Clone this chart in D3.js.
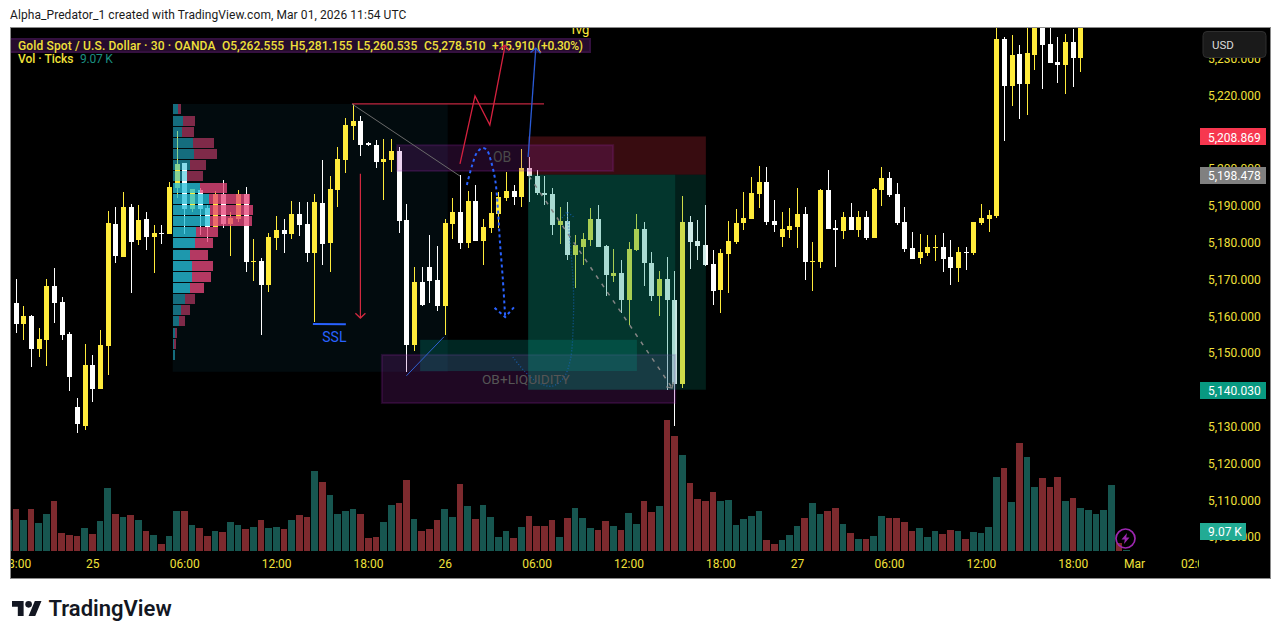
<!DOCTYPE html>
<html>
<head>
<meta charset="utf-8">
<script src="https://cdn.jsdelivr.net/npm/d3@7"></script>
<style>
  html, body { margin: 0; padding: 0; background: #fff; overflow: hidden; }
  text { font-family: Roboto, sans-serif; }
</style>
</head>
<body>
<svg class="chart" width="1281" height="639"></svg>
<script>
// 30 minute bars, leftmost partly cut off by the pane
var opens = [
  5158.4,5163.6,5157.9,5160.1,5151.1,5153.6,5168.2,5163.9,5155.2,5135.4,
  5130.2,5146.8,5140.2,5151.9,5185.1,5176.1,5189.7,5180.7,5186.4,5181.6,
  5182.6,5182.4,5194.9,5201.7,5189.2,5194.3,5189.4,5184.3,5193.2,5185.1,
  5186.4,5193.2,5174.8,5175,5168.5,5181.3,5183.5,5182.4,5187.8,5185.1,
  5177.2,5190.8,5179.9,5194.3,5202.5,5211.7,5213.1,5207.1,5206.5,5201.9,
  5202.5,5204.9,5186.2,5152.2,5169.3,5173.4,5169.9,5162.8,5185.1,5188.4,
  5179.9,5191.3,5180.4,5184,5187.8,5192.1,5194,5192.4,5200.3,5198.1,
  5193.5,5193.2,5184.8,5185.9,5176.7,5178.8,5180.7,5186.4,5179.1,5171,
  5171.8,5164.4,5178,5183.7,5174.5,5165.5,5170.1,5164.4,5141.6,5185.6,
  5180.4,5179.4,5174.2,5167.1,5176.9,5180.2,5185.4,5186.4,5193.2,5196.5,
  5185.9,5181.6,5183.5,5184.3,5187.8,5174.8,5174.8,5194.3,5184,5183.2,
  5187,5183.5,5187,5181.3,5194.3,5197.6,5193.2,5185.6,5178.6,5175.8,
  5177.2,5178.6,5178.8,5176.1,5173.1,5177.5,5177.2,5185.4,5186.4,5187.3,
  5235.4,5222.6,5231.3,5223.1,5231,5242,5234,5229.1,5228.3,5234.5,
  5230.2,5243,5248,5252,5256,5265,5262.555
];
var highs = [
  5164.4,5170.1,5162.8,5160.4,5156.8,5170.1,5173.1,5165.2,5155.7,5137.8,
  5152.5,5149.5,5156.3,5188.6,5189.7,5193.8,5190.5,5190.2,5188.4,5184.8,
  5184.8,5196.5,5210.3,5201.7,5194.6,5194.9,5190.2,5194,5197,5188.4,
  5194.3,5195.1,5181,5175.8,5182.6,5187.3,5186.4,5191.3,5191,5191,
  5193.2,5202.5,5198.1,5206,5213.9,5217.7,5214.4,5207.4,5207.9,5208.2,
  5208.2,5206,5190.5,5173.4,5173.4,5182.1,5179.1,5186.4,5192.1,5198.4,
  5194,5195.7,5186.4,5193.8,5193.8,5199.2,5195.7,5205.4,5203.3,5199.8,
  5198.1,5194.9,5189.7,5191,5182.1,5182.6,5189.4,5190.2,5179.4,5178.3,
  5175.3,5180.2,5187.8,5185.6,5177.5,5172.3,5176.1,5172.3,5192.7,5187.3,
  5186.2,5190.2,5178,5178.3,5185.9,5189.2,5193.8,5197.8,5200.8,5200.6,
  5191.6,5188.4,5189.4,5194.9,5189.7,5180.2,5194.6,5199.8,5186.2,5188.4,
  5190.8,5188.6,5188.6,5194.9,5200.6,5199.2,5196.2,5189.7,5182.9,5182.4,
  5182.1,5182.1,5182.6,5180.7,5178.8,5178.8,5185.6,5190.5,5188.9,5240,
  5235.9,5236.4,5233.7,5240,5244,5244,5242,5235.9,5236.7,5238,
  5245,5250,5255,5258,5268,5268,5281.155
];
var lows = [
  5157.6,5155.5,5153.6,5146.2,5148.9,5146.5,5158.2,5153.6,5139.7,5128.3,
  5129.1,5136.7,5140.2,5144,5174.5,5176.1,5166.3,5179.4,5178,5171.8,
  5179.6,5182.4,5192.1,5182.4,5188.4,5182.1,5180.2,5184.3,5184,5176.4,
  5185.6,5172,5169.6,5154.9,5166.6,5178,5177.2,5181,5181.8,5174.8,
  5158.5,5174,5172,5189.7,5198.9,5207.9,5203.6,5206.3,5200.3,5191.6,
  5199.2,5182.6,5144.9,5150.6,5162.8,5163.6,5161.4,5154.9,5181,5178.3,
  5178.6,5180.4,5174,5182.6,5184,5191.3,5190.2,5189.7,5191,5193,
  5190.2,5182.1,5179.6,5175.3,5167.7,5174,5179.1,5178.8,5165.5,5169.3,
  5160.9,5157.6,5177.7,5168.2,5164.2,5160.1,5140,5130.2,5140.5,5172.8,
  5175.3,5173.7,5163.1,5160.9,5166.3,5179.6,5183.5,5186.4,5189.4,5184.8,
  5182.9,5178.8,5181.3,5178.6,5169.9,5166.9,5173.1,5183.7,5173.4,5181,
  5183.5,5181.6,5180.7,5181.3,5190,5192.4,5184.8,5177.5,5175.6,5174.2,
  5176.4,5175,5172,5168.5,5169.3,5172.6,5176.7,5184.8,5182.9,5186.7,
  5207.6,5217.1,5213.6,5214.7,5226.9,5221.8,5228.8,5223.4,5220.4,5222.3,
  5226.4,5241,5245,5250,5254,5258,5260.535
];
var closes = [
  5163.6,5157.9,5160.1,5151.1,5153.8,5168.2,5163.6,5154.9,5143.5,5130.7,
  5146.8,5140.2,5152.2,5185.4,5176.4,5189.7,5180.2,5186.2,5181.6,5182.6,
  5182.4,5195.1,5201.4,5189.2,5194.6,5189.2,5184.3,5193.2,5185.1,5186.7,
  5193.2,5174.8,5175,5168.5,5181.6,5183.5,5182.4,5187.8,5184.8,5177.2,
  5191,5179.6,5194.6,5202.7,5212,5213.1,5206.5,5206.5,5201.9,5202.7,
  5204.9,5185.9,5152.2,5169.3,5163.1,5169.6,5162.8,5185.4,5188.4,5179.9,
  5191.3,5180.4,5184.3,5188.1,5192.4,5194,5192.4,5200.3,5198.1,5193.5,
  5193,5184.8,5185.9,5176.7,5179.4,5181,5186.4,5178.8,5171.2,5171.8,
  5164.4,5178.3,5183.7,5174.5,5165.5,5170.1,5164.4,5141.6,5185.6,5180.2,
  5179.1,5174,5166.9,5177.2,5180.4,5185.4,5186.7,5193.5,5196.5,5185.6,
  5184.8,5183.7,5184.5,5187.8,5174.8,5175,5194.3,5183.7,5183.5,5187,
  5183.5,5187,5181.3,5194.6,5197.6,5193,5185.4,5178.3,5175.6,5177.5,
  5178.8,5178.8,5175.6,5173.1,5177.5,5177.2,5185.6,5186.7,5187.5,5235.4,
  5222.6,5231,5223.1,5231.6,5242,5233.7,5228.8,5228.3,5234.5,5230.2,
  5243,5248,5252,5256,5265,5262.6,5278.51
];
// tick volume in thousands
var volumes = [
  248,336,248,336,224,296,400,144,128,120,184,
  136,240,504,296,272,288,248,160,128,56,120,
  320,320,208,184,120,160,152,232,208,176,192,248,184,192,176,248,288,272,640,552,448,296,320,336,296,104,112,232,368,384,568,256,160,
  176,248,336,272,536,360,256,368,272,112,160,104,192,280,200,200,248,112,264,344,264,184,168,240,200,168,304,216,400,312,360,1048,920,768,544,416,400,472,400,408,208,256,280,320,88,56,88,128,200,264,384,296,320,344,216,
  144,96,96,120,280,264,264,232,160,184,112,160,136,168,160,96,152,144,192,592,664,392,864,752,512,584,512,592,400,424,344,328,296,328,528,64,9.07
];

var timeTickBars = [1, 11, 23, 35, 47, 57, 69, 81, 93, 103, 115, 127, 139, 147, 155];
var timeTickLabels = ['18:00','25','06:00','12:00','18:00','26','06:00','12:00','18:00','27','06:00','12:00','18:00','Mar','02:00'];
var priceTicks = [5100,5110,5120,5130,5140,5150,5160,5170,5180,5190,5200,5210,5220,5230];

// volume profile rows, top price of each row, buy and sell part
var profilePrices = [5217.7,5214.4,5211.4,5208.5,5205.5,5202.5,5199.5,5196.2,5193.2,5190.2,5187.3,5184.3,5181.3,5178,5175,5172,5169,5166.1,5163.1,5160.1,5156.8,5153.8,5150.8];
var profileUp   = [5,10,9,20,21,17,14,27,36,37,37,23,22,17,19,19,17,12,8,6,2,1,2];
var profileDown = [3,12,12,21,23,16,16,27,41,43,42,22,18,18,21,19,14,10,9,6,2,2,0];

var stopPrice = 5208.869, entryPrice = 5198.478, targetPrice = 5140.030;

var margin = {left: 11, top: 28, right: 1199, bottom: 578};

var x = d3.scaleLinear()
    .domain([0, 146])
    .range([8.04, 1126.4]);

var y = d3.scaleLinear()
    .domain([5100, 5220])
    .range([537, 95.5]);

var yVol = d3.scaleLinear()
    .domain([0, 1048])
    .range([551, 420]);

var xProfile = d3.scaleLinear()
    .domain([0, 100])
    .range([173, 273]);

var yellow = '#ffeb3b', axisYellow = '#f0e03a';
var fmtPrice = d3.format(',.3f');
var lastVol = volumes[volumes.length - 1];

var svg = d3.select('.chart');

svg.append('text')
    .attr('x', 10).attr('y', 19)
    .attr('font-size', 12)
    .attr('letter-spacing', 0.075)
    .attr('fill', '#1a1a1a')
    .text('Alpha_Predator_1 created with TradingView.com, Mar 01, 2026 11:54 UTC');

svg.append('rect')
    .attr('x', 10.5).attr('y', 27.5)
    .attr('width', 1260).attr('height', 551)
    .attr('fill', '#000')
    .attr('stroke', '#8a8a8a');

var defs = svg.append('defs');
defs.append('clipPath').attr('id', 'pane')
  .append('rect')
    .attr('x', margin.left).attr('y', margin.top)
    .attr('width', margin.right - margin.left).attr('height', margin.bottom - margin.top);
defs.append('clipPath').attr('id', 'timeclip')
  .append('rect')
    .attr('x', margin.left).attr('y', 552)
    .attr('width', margin.right - margin.left).attr('height', 26);

// legend band and text sit under the drawings
svg.append('rect')
    .attr('x', 11).attr('y', 38)
    .attr('width', 580).attr('height', 15)
    .attr('fill', '#34103f');
svg.append('rect')
    .attr('x', 11).attr('y', 40)
    .attr('width', 578).attr('height', 11)
    .attr('fill', '#250c2d');

var n = closes.length - 1;
var chg = closes[n] - closes[n - 1];
var legend = [
  {x: 18, ls: 0.15, s: 'Gold Spot / U.S. Dollar · 30 · OANDA'},
  {x: 222, ls: 0, s: 'O' + fmtPrice(opens[n])},
  {x: 290, ls: 0, s: 'H' + fmtPrice(highs[n])},
  {x: 357, ls: 0, s: 'L' + fmtPrice(lows[n])},
  {x: 424, ls: 0, s: 'C' + fmtPrice(closes[n])},
  {x: 492, ls: -0.25, s: '+' + chg.toFixed(3) + ' (+' + (chg / closes[n - 1] * 100).toFixed(2) + '%)'}
];
svg.selectAll('text.legend')
    .data(legend)
  .enter().append('text')
    .attr('class', 'legend')
    .attr('x', function(d) { return d.x; })
    .attr('y', 46)
    .attr('dy', '.35em')
    .attr('font-size', 12)
    .attr('font-weight', 500)
    .attr('letter-spacing', function(d) { return d.ls; })
    .attr('fill', axisYellow)
    .text(function(d) { return d.s; });

svg.append('text')
    .attr('x', 18).attr('y', 59).attr('dy', '.35em')
    .attr('font-size', 12).attr('font-weight', 500)
    .attr('fill', axisYellow)
    .text('Vol · Ticks');
svg.append('text')
    .attr('x', 80).attr('y', 59).attr('dy', '.35em')
    .attr('font-size', 12)
    .attr('letter-spacing', -0.2)
    .attr('fill', '#1b8f80')
    .text(lastVol.toFixed(2) + ' K');

var pane = svg.append('g').attr('clip-path', 'url(#pane)');

function zone(g, i0, i1, p0, p1, fill) {
  return g.append('rect')
      .attr('x', x(i0)).attr('y', y(p0))
      .attr('width', x(i1) - x(i0)).attr('height', y(p1) - y(p0))
      .attr('fill', fill);
}

// box behind the profile
zone(pane, 21.5, 57.4, 5217.7, 5144.9, '#020b0e');

// volume
pane.selectAll('rect.vol')
    .data(volumes)
  .enter().append('rect')
    .attr('class', 'vol')
    .attr('x', function(d, i) { return Math.round(x(i) - 3.2); })
    .attr('width', function(d, i) { return Math.round(x(i + 1) - 3.2) - Math.round(x(i) - 3.2) - 1; })
    .attr('y', function(d) { return Math.round(yVol(d)); })
    .attr('height', function(d) { return Math.max(1, 551 - Math.round(yVol(d))); })
    .attr('fill', function(d, i) { return closes[i] >= opens[i] ? '#175650' : '#7d2a2e'; });

// candles
var candle = pane.selectAll('g.candle')
    .data(closes)
  .enter().append('g')
    .attr('class', 'candle')
    .attr('fill', function(d, i) { return d >= opens[i] ? yellow : '#fff'; });

candle.append('rect')
    .attr('x', function(d, i) { return Math.round(x(i)); })
    .attr('width', 1)
    .attr('y', function(d, i) { return Math.round(y(highs[i])); })
    .attr('height', function(d, i) { return Math.round(y(lows[i])) - Math.round(y(highs[i])); });

candle.append('rect')
    .attr('x', function(d, i) { return Math.round(x(i)) - 2; })
    .attr('width', 5)
    .attr('y', function(d, i) { return Math.round(y(Math.max(d, opens[i]))); })
    .attr('height', function(d, i) {
      return Math.max(1, Math.round(y(Math.min(d, opens[i]))) - Math.round(y(Math.max(d, opens[i]))));
    });

// profile goes over the candles
profilePrices.forEach(function(p, i) {
  var strong = i >= 7 && i <= 16;
  var a = strong ? 0.78 : 0.55;
  var top = Math.round(y(p));
  pane.append('rect')
      .attr('x', xProfile(0)).attr('y', top)
      .attr('width', xProfile(profileUp[i]) - xProfile(0)).attr('height', 10)
      .attr('fill', 'rgb(38,192,218)').attr('fill-opacity', a);
  pane.append('rect')
      .attr('x', xProfile(profileUp[i])).attr('y', top)
      .attr('width', xProfile(profileDown[i]) - xProfile(0)).attr('height', 10)
      .attr('fill', 'rgb(231,70,122)').attr('fill-opacity', a);
});

// drawings, in bar index and price
var purple = 'rgba(156,39,176,0.2)';
zone(pane, 48.8, 87.1, 5149.5, 5136.4, purple)
    .attr('stroke', 'rgba(156,39,176,0.2)').attr('stroke-width', 2);
zone(pane, 53.8, 82.1, 5153.6, 5145.1, 'rgba(0,150,136,0.25)');
zone(pane, 67.9, 91.1, stopPrice, entryPrice, 'rgba(242,54,69,0.23)');
zone(pane, 67.9, 91.1, entryPrice, targetPrice, 'rgba(8,153,129,0.2)');
zone(pane, 67.9, 87.1, entryPrice, targetPrice, 'rgba(8,153,129,0.19)');
zone(pane, 50.8, 79, 5206.5, 5199.5, purple)
    .attr('stroke', 'rgba(156,39,176,0.2)').attr('stroke-width', 2);

var line = d3.line()
    .x(function(d) { return x(d[0]); })
    .y(function(d) { return y(d[1]); });
var curve = d3.line()
    .curve(d3.curveCatmullRom)
    .x(function(d) { return x(d[0]); })
    .y(function(d) { return y(d[1]); });

function draw(points, color, width, dash, gen) {
  return pane.append('path')
      .attr('d', (gen || line)(points))
      .attr('fill', 'none')
      .attr('stroke', color)
      .attr('stroke-width', width)
      .attr('stroke-dasharray', dash || null);
}

// small open head at the last point of a line
function head(points, color, width, size, dash) {
  var a = points[points.length - 2], b = points[points.length - 1];
  var tx = x(b[0]), ty = y(b[1]);
  var ang = Math.atan2(ty - y(a[1]), tx - x(a[0]));
  var d = 'M' + (tx - size * Math.cos(ang - 0.8)) + ',' + (ty - size * Math.sin(ang - 0.8)) +
          'L' + tx + ',' + ty +
          'L' + (tx - size * Math.cos(ang + 0.8)) + ',' + (ty - size * Math.sin(ang + 0.8));
  return pane.append('path').attr('d', d).attr('fill', 'none')
      .attr('stroke', color).attr('stroke-width', width)
      .attr('stroke-dasharray', dash || null);
}

var redTop = [[44.9, 5217.7], [69.97, 5217.7]];
var grayDrop = [[44.9, 5217.7], [59, 5198.1]];
var zigzag = [[59, 5201.4], [60.96, 5219.9], [62.9, 5212], [64.9, 5233.7]];
var blueUp = [[67.9, 5203.3], [68.9, 5232.9]];
var dotted = [[59.9,5195.7],[60.6,5201.1],[61.2,5204.4],[61.9,5205.7],[62.5,5205.2],[63,5202.5],[63.6,5197],[63.96,5188.9],[64.2,5180.7],[64.6,5169.9],[64.9,5159.8]];
var redDown = [[46, 5198.7], [46, 5159.5]];
var sslLine = [[39.8, 5157.9], [44.1, 5157.8]];
var blueRise = [[52, 5143.8], [56.9, 5154.4]];
var grayDash = [[68, 5198.1], [86.7, 5140.5]];
var faint = [[65.9,5148.9],[67.5,5144.9],[69.1,5142.1],[71,5141],[72.5,5143.2],[73.4,5148.1],[73.8,5159],[73.8,5168],[73.5,5177.2],[73.1,5186.2],[73,5188.4]];

draw(redTop, '#c0263f', 1.3);
draw(grayDrop, '#6a6a6a', 1);
draw(zigzag, '#d5213f', 1.3);
head(zigzag, '#d5213f', 1.3, 7);
draw(blueUp, '#2a5bd7', 1.3);
head(blueUp, '#2a5bd7', 1.3, 7);
draw(dotted, '#2962ff', 2, '3 3', curve);
head(dotted, '#2962ff', 2, 14, '3 3');
draw(redDown, '#d0293f', 1.2);
head(redDown, '#d0293f', 1.3, 7);
draw(sslLine, '#2962ff', 2);
draw(blueRise, '#2f5fcf', 1);
draw(grayDash, '#858585', 1.5, '4 6');
head(grayDash, '#858585', 1.2, 6);
draw(faint, '#1565c0', 1.3, '1 2', curve).attr('stroke-opacity', 0.75);
head(faint, '#1565c0', 1.3, 8, '1 2').attr('stroke-opacity', 0.75);

function note(i, p, str, color, size) {
  pane.append('text')
      .attr('x', x(i)).attr('y', y(p))
      .attr('dy', '.35em')
      .attr('text-anchor', 'middle')
      .attr('font-size', size)
      .attr('fill', color)
      .text(str);
}
note(42.6, 5154.4, 'SSL', '#2962ff', 14);
note(64.5, 5203.3, 'OB', '#4a4a4a', 14);
note(67.6, 5143, 'OB+LIQUIDITY', '#555', 13.7);
note(74.7, 5238, 'fvg', yellow, 13);

// price axis
var yAxis = d3.axisRight(y)
    .tickValues(priceTicks)
    .tickSize(0)
    .tickPadding(0)
    .tickFormat(fmtPrice);
var yg = svg.append('g')
    .attr('transform', 'translate(1208,0)')
    .call(yAxis);
yg.select('.domain').remove();
yg.selectAll('text')
    .attr('font-size', 12)
    .attr('font-family', 'Roboto, sans-serif')
    .attr('fill', axisYellow);

// time axis
var xAxis = d3.axisBottom(x)
    .tickValues(timeTickBars)
    .tickSize(0)
    .tickPadding(0)
    .tickFormat(function(d, i) { return timeTickLabels[i]; });
var xg = svg.append('g')
    .attr('clip-path', 'url(#timeclip)')
  .append('g')
    .attr('transform', 'translate(0,559)')
    .call(xAxis);
xg.select('.domain').remove();
xg.selectAll('text')
    .attr('font-size', 12)
    .attr('font-family', 'Roboto, sans-serif')
    .attr('fill', axisYellow);

// price labels
function priceTag(py, w, color, str) {
  svg.append('rect')
      .attr('x', 1200).attr('y', Math.round(py) - 8)
      .attr('width', w).attr('height', 17)
      .attr('fill', color);
  svg.append('text')
      .attr('x', 1208).attr('y', py + 1)
      .attr('dy', '.35em')
      .attr('font-size', 12)
      .attr('fill', '#fff')
      .text(str);
}
priceTag(y(stopPrice), 66, '#f7374f', fmtPrice(stopPrice));
priceTag(y(entryPrice), 66, '#808080', fmtPrice(entryPrice));
priceTag(y(targetPrice), 66, '#089981', fmtPrice(targetPrice));
priceTag(531, 46, '#22ab94', lastVol.toFixed(2) + ' K');

// currency button
svg.append('rect')
    .attr('x', 1203).attr('y', 31.5)
    .attr('width', 63).attr('height', 26).attr('rx', 4)
    .attr('fill', '#1a1a1a').attr('stroke', '#2e2e2e');
svg.append('text')
    .attr('x', 1212).attr('y', 48.5)
    .attr('font-size', 11.5)
    .attr('fill', '#dbdbdb')
    .text('USD');

// purple bolt marker
var bolt = svg.append('g').attr('transform', 'translate(1125.5,538.5)');
bolt.append('circle')
    .attr('r', 9.5)
    .attr('fill', 'none')
    .attr('stroke', '#9c27b0')
    .attr('stroke-width', 1.7);
bolt.append('path')
    .attr('d', 'M1.5,-5.5 L-4,1 L-0.7,1 L-1.5,5.5 L4,-1 L0.7,-1 Z')
    .attr('fill', '#9c27b0');

// TradingView logo
var logo = svg.append('g').attr('transform', 'translate(12,597.7) scale(0.83)');
logo.append('path')
    .attr('d', 'M14 22H7V11H0V4h14v18zM28 22h-8l7.5-18h8L28 22z')
    .attr('fill', '#131722');
logo.append('circle')
    .attr('cx', 20).attr('cy', 8).attr('r', 4)
    .attr('fill', '#131722');
svg.append('text')
    .attr('x', 48.5).attr('y', 616)
    .attr('font-family', 'Inter, sans-serif')
    .attr('font-size', 22)
    .attr('font-weight', 600)
    .attr('fill', '#131722')
    .text('TradingView');
</script>
</body>
</html>
